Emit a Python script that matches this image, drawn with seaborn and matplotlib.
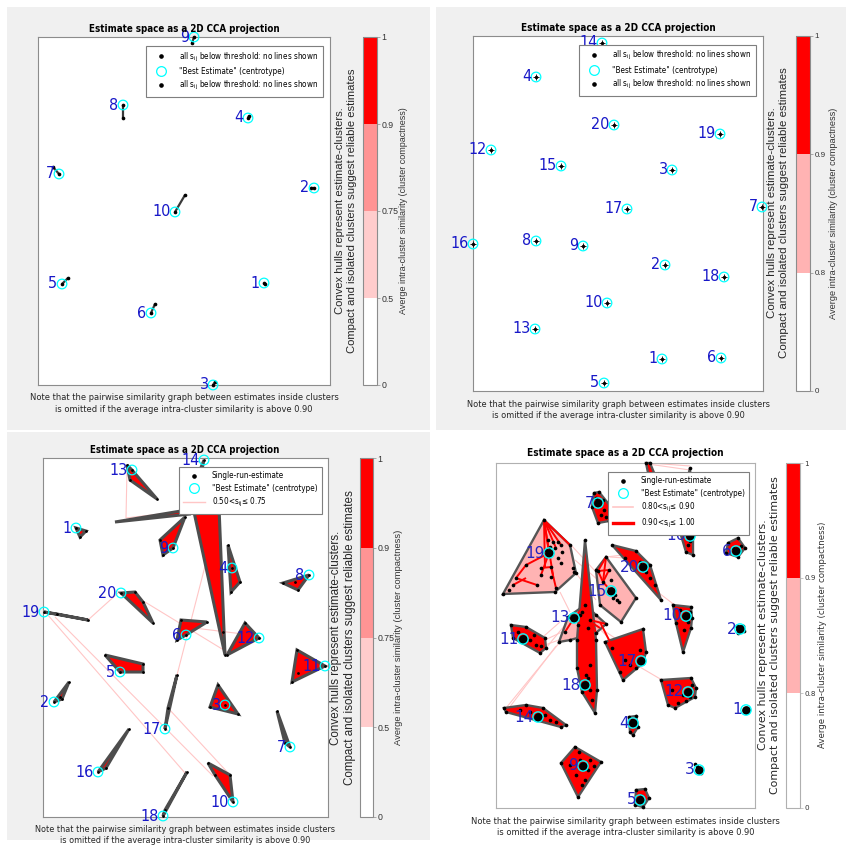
import numpy as np
import matplotlib
matplotlib.use("Agg")
import matplotlib.pyplot as plt
import seaborn as sns
from matplotlib import font_manager
from matplotlib.font_manager import FontProperties
from matplotlib.colors import ListedColormap, BoundaryNorm
from matplotlib.cm import ScalarMappable
from matplotlib.lines import Line2D
from matplotlib.patches import Rectangle, Polygon
from matplotlib.collections import LineCollection

# ---------------------------------------------------------------- data
# Run A: 10 components, two estimates per cluster (centrotype, other estimate)
p1_ids = [1, 2, 3, 4, 5, 6, 7, 8, 9, 10]
p1_centro_x = [264, 314, 213, 248, 62, 151, 59, 123, 194, 175]
p1_centro_y = [283, 188, 385, 118, 284, 313, 174, 105, 37, 212]
p1_other_x = [265, 311, 215, 249, 68, 155, 53, 123, 192, 185]
p1_other_y = [284, 188, 382, 116, 278, 304, 167, 118, 43, 195]

# Run B: 20 components, all estimates coincide with the centrotype
p2_ids = list(range(1, 21))
p2_x = [662, 665, 672, 536, 604, 721, 762, 536, 583, 607,
        700, 491, 535, 602, 561, 473, 627, 724, 720, 614]
p2_y = [359, 265, 170, 77, 383, 358, 207, 241, 246, 303,
        70, 150, 329, 43, 166, 244, 209, 277, 134, 125]

# Run C: 20 components, few estimates per cluster (first point = centrotype)
p3_clusters = {
    1: [(76, 528), (86, 531), (80, 537)],
    2: [(54, 702), (69, 682), (62, 699), (60, 697)],
    3: [(225, 705), (218, 685), (238, 714), (210, 707)],
    4: [(232, 568), (228, 545), (240, 582), (231, 592)],
    5: [(120, 672), (105, 655), (143, 664), (143, 672)],
    6: [(186, 635), (181, 620), (207, 622), (177, 640)],
    7: [(290, 747), (277, 711), (285, 743)],
    8: [(309, 575), (283, 583), (295, 582), (298, 590)],
    9: [(173, 548), (160, 540), (185, 517), (163, 555)],
    10: [(233, 802), (208, 763), (230, 775), (215, 775)],
    11: [(325, 666), (297, 650), (298, 673), (292, 682)],
    12: [(259, 638), (245, 623), (227, 655)],
    13: [(132, 470), (127, 465), (157, 499), (130, 480)],
    14: [(204, 460), (190, 495), (193, 511)],
    15: [(214, 493), (194, 512), (219, 507), (225, 655), (223, 632)],
    16: [(98, 772), (129, 729), (106, 768)],
    17: [(165, 729), (177, 675), (168, 708)],
    18: [(163, 816), (187, 772), (165, 810)],
    19: [(44, 612), (88, 620), (57, 614)],
    20: [(121, 593), (135, 592), (153, 623), (143, 602)],
}
p3_c14_tail = [(115, 522), (193, 509), (190, 514)]
p3_links = [((127, 470), (126, 518)), ((126, 518), (193, 510)), ((88, 620), (118, 593)),
            ((145, 602), (227, 652)), ((186, 627), (243, 634)), ((47, 614), (185, 773)),
            ((55, 617), (213, 776)), ((168, 708), (230, 775)), ((177, 675), (220, 508))]

# Run D: 20 components, many estimates per cluster (first point = centrotype)
p4_clusters = {
    1: [(746, 710)],
    2: [(740, 629), (737, 626), (743, 626), (744, 631), (738, 633)],
    3: [(699, 770), (695, 764), (697, 766), (701, 773), (698, 768)],
    4: [(633, 723), (629, 717), (636, 716), (638, 727), (633, 735), (630, 732), (632, 720)],
    5: [(640, 800), (636, 790), (645, 789), (649, 798), (643, 807), (635, 805), (641, 796)],
    6: [(736, 551), (728, 543), (738, 538), (745, 548), (738, 557), (726, 553), (741, 546), (733, 548)],
    7: [(598, 503), (594, 493), (599, 492), (611, 507), (609, 521), (598, 523), (592, 507),
        (604, 510), (601, 515), (606, 517), (596, 498), (603, 500)],
    8: [(652, 492), (646, 463), (650, 463), (657, 480), (655, 488)],
    9: [(583, 766), (575, 747), (601, 762), (578, 797), (561, 763), (580, 760), (588, 770),
        (576, 775), (585, 780), (590, 760), (570, 765), (582, 785), (594, 766), (579, 752)],
    10: [(686, 616), (673, 605), (691, 607), (692, 618), (691, 628), (683, 652), (676, 623),
         (688, 622), (690, 612), (680, 610), (684, 630)],
    11: [(523, 639), (511, 625), (526, 627), (545, 638), (546, 648), (540, 653), (513, 638),
         (530, 640), (536, 645), (518, 632), (541, 646), (534, 635)],
    12: [(688, 692), (661, 680), (691, 678), (696, 688), (695, 697), (686, 701), (675, 708),
         (668, 705), (692, 685), (683, 695), (690, 697), (678, 703), (672, 690)],
    13: [(574, 618), (559, 642), (568, 617), (585, 605), (596, 615), (606, 624), (596, 633),
         (570, 640), (578, 625), (582, 612), (590, 620), (565, 632), (588, 628), (580, 615)],
    14: [(538, 717), (504, 708), (526, 705), (543, 708), (566, 725), (561, 727), (506, 712),
         (545, 715), (550, 720), (530, 712), (520, 710), (556, 722)],
    15: [(611, 591), (606, 557), (636, 598), (621, 622), (600, 605), (596, 570), (613, 598),
         (617, 600), (619, 602), (598, 571), (609, 570), (603, 582), (611, 580), (615, 595)],
    16: [(690, 536), (690, 468), (677, 522), (693, 522), (693, 555), (686, 552), (688, 545), (690, 541)],
    17: [(641, 661), (605, 642), (643, 629), (646, 652), (643, 663), (623, 680), (625, 660),
         (630, 665), (640, 650), (620, 672), (612, 648), (636, 668)],
    18: [(585, 685), (585, 540), (596, 640), (597, 690), (595, 713), (577, 668), (577, 640),
         (590, 690), (588, 678), (582, 692), (592, 700), (590, 665), (586, 675)],
    19: [(549, 553), (544, 520), (570, 545), (576, 573), (555, 592), (503, 594), (548, 540),
         (553, 542), (558, 542), (550, 547), (546, 550), (555, 548), (561, 545), (562, 552),
         (558, 558), (561, 563), (551, 567), (541, 568), (551, 577), (526, 565), (541, 575),
         (516, 578), (513, 585), (537, 585), (556, 588), (573, 568), (574, 572), (509, 590)],
    20: [(643, 567), (612, 545), (636, 551), (650, 565), (661, 600), (625, 558), (646, 572),
         (650, 578), (640, 562), (655, 585)],
}
p4_compactness = {13: 0.85, 15: 0.85, 19: 0.85}   # remaining clusters above 0.90
p4_links_weak = [((506, 708), (560, 642)), ((509, 708), (556, 646)), ((545, 640), (566, 630)),
                 ((545, 645), (570, 636)), ((546, 648), (565, 625)), ((544, 636), (560, 622)),
                 ((571, 545), (596, 572)), ((575, 560), (598, 580)), ((606, 557), (640, 553)),
                 ((610, 557), (625, 558)), ((655, 590), (676, 606)), ((633, 663), (662, 680)),
                 ((596, 625), (620, 650)), ((600, 628), (640, 655)), ((648, 464), (690, 470)),
                 ((650, 463), (690, 466)), ((576, 573), (596, 600)), ((560, 592), (570, 612)),
                 ((544, 520), (576, 573)), ((544, 520), (555, 592)), ((544, 520), (573, 568))]
p4_links_strong = [((544, 520), (549, 553)), ((544, 520), (556, 548)), ((544, 520), (561, 545)),
                   ((544, 520), (570, 545)), ((544, 520), (553, 575)), ((544, 520), (545, 568)),
                   ((549, 553), (526, 565)), ((526, 565), (516, 578)), ((516, 578), (537, 585)),
                   ((541, 568), (551, 567)), ((549, 553), (541, 575)), ((551, 567), (556, 588)),
                   ((513, 585), (526, 578)), ((598, 571), (609, 570)), ((598, 571), (603, 582)),
                   ((609, 570), (603, 582)), ((606, 557), (603, 582)), ((603, 582), (611, 591)),
                   ((606, 557), (598, 571)), ((585, 605), (574, 618)), ((585, 605), (590, 620)),
                   ((585, 605), (596, 633)), ((574, 618), (565, 632)), ((580, 615), (600, 628)),
                   ((568, 617), (588, 628)), ((590, 620), (606, 624)), ((600, 622), (612, 646))]

cbar_bounds_a = [0, 0.5, 0.75, 0.9, 1]
cbar_bounds_b = [0, 0.8, 0.9, 1]
cbar_labels_a = ["0", "0.5", "0.75", "0.9", "1"]
cbar_labels_b = ["0", "0.8", "0.9", "1"]

TITLE = "Estimate space as a 2D CCA projection"
SIDE = "Convex hulls represent estimate-clusters.\nCompact and isolated clusters suggest reliable estimates"
CBLAB = "Averge intra-cluster similarity (cluster compactness)"
NOTE = ("Note that the pairwise similarity graph between estimates inside clusters\n"
        "is omitted if the average intra-cluster similarity is above 0.90")
LEG_NONE = r"all s$_{\mathregular{ij}}$ below threshold: no lines shown"
LEG_SINGLE = "Single-run-estimate"
LEG_BEST = '"Best Estimate" (centrotype)'

# ---------------------------------------------------------------- style
W, H = 846, 850
_fonts = font_manager.fontManager.ttflist
_names = {f.name for f in _fonts}
_has_cond = any(f.name == "DejaVu Sans" and f.stretch == "condensed" for f in _fonts)
if "Liberation Sans Narrow" in _names:
    NFAM, NSTR = "Liberation Sans Narrow", "normal"
elif _has_cond:
    NFAM, NSTR = "DejaVu Sans", "condensed"
else:
    NFAM, NSTR = ("Liberation Sans" if "Liberation Sans" in _names else "DejaVu Sans"), "normal"
SANS = "Liberation Sans" if "Liberation Sans" in _names else "DejaVu Sans"


def nfp(size, weight="normal"):
    return FontProperties(family=NFAM, stretch=NSTR, size=size, weight=weight)


plt.rcParams["mathtext.fontset"] = "custom"
plt.rcParams["mathtext.rm"] = NFAM
plt.rcParams["mathtext.it"] = NFAM
plt.rcParams["font.family"] = [NFAM, "DejaVu Sans"]

BLUE = "#1818c8"
RED = "#ff0000"
PINK = "#ffb3b3"
CYAN = "#00ffff"
LINK = "#ffc6c6"

fig = plt.figure(figsize=(W / 100, H / 100), dpi=100, facecolor="white")
renderer = fig.canvas.get_renderer()


def frect(x0, y0, x1, y1):
    return [x0 / W, 1 - y1 / H, (x1 - x0) / W, (y1 - y0) / H]


def fit_text(x, y, s, target, fp, vertical=False, **kw):
    """Place a figure text and scale its size so its long side spans `target` pixels."""
    t = fig.text(x / W, 1 - y / H, s, fontproperties=fp, **kw)
    bb = t.get_window_extent(renderer)
    span = bb.height if vertical else bb.width
    fp2 = fp.copy()
    fp2.set_size(fp.get_size() * target / span)
    t.set_fontproperties(fp2)
    return t


for x0, y0, x1, y1 in [(7, 7, 430, 430), (436, 7, 846, 430), (7, 432, 430, 840)]:
    fig.patches.append(Rectangle((x0 / W, 1 - y1 / H), (x1 - x0) / W, (y1 - y0) / H,
                                 transform=fig.transFigure, fc="#f0f0f0", ec="none", zorder=-10))


def convex_hull(pts):
    pts = sorted(set(map(tuple, pts)))
    if len(pts) <= 2:
        return pts

    def cross(o, a, b):
        return (a[0] - o[0]) * (b[1] - o[1]) - (a[1] - o[1]) * (b[0] - o[0])

    lower, upper = [], []
    for p in pts:
        while len(lower) >= 2 and cross(lower[-2], lower[-1], p) <= 0:
            lower.pop()
        lower.append(p)
    for p in reversed(pts):
        while len(upper) >= 2 and cross(upper[-2], upper[-1], p) <= 0:
            upper.pop()
        upper.append(p)
    return lower[:-1] + upper[:-1]


def make_panel(box, cbox, bounds, colors, ticklabels, title_at, side_at, cbl_at, note_at,
               side_font, tick_size, spine="#8c8c8c"):
    ax = fig.add_axes(frect(*box))
    ax.set_facecolor("white")
    ax.set_xticks([])
    ax.set_yticks([])
    for sp in ax.spines.values():
        sp.set_color(spine)
        sp.set_linewidth(0.8)
    cax = fig.add_axes(frect(*cbox))
    cmap = ListedColormap(colors)
    norm = BoundaryNorm(bounds, cmap.N)
    cb = fig.colorbar(ScalarMappable(norm=norm, cmap=cmap), cax=cax, spacing="uniform", ticks=bounds)
    cb.ax.set_yticklabels(ticklabels, fontsize=tick_size, family=side_font, color="#333333")
    cb.outline.set_edgecolor(spine)
    cb.outline.set_linewidth(0.8)
    cb.ax.tick_params(length=2, width=0.5, color=spine, pad=1.2)
    tx, ty, tw = title_at
    fit_text(tx, ty, TITLE, tw, nfp(8, "bold"), ha="center", va="center")
    sx, sy, sh = side_at
    fit_text(sx, sy, SIDE, sh, FontProperties(family=side_font, size=8), vertical=True,
             ha="center", va="center", rotation=90, color="#262626", linespacing=1.15)
    cx, cy, ch = cbl_at
    fit_text(cx, cy, CBLAB, ch, FontProperties(family=side_font, size=6), vertical=True,
             ha="center", va="center", rotation=90, color="#333333")
    nx, ny, nw = note_at
    fit_text(nx, ny, NOTE, nw, nfp(8), ha="center", va="center", color="#262626",
             linespacing=1.3)
    return ax


def finish(ax, box, handles, labels, anchor, fs=5.9):
    ax.set_xlim(box[0], box[2])
    ax.set_ylim(box[3], box[1])
    leg = ax.legend(handles, labels, loc="upper right", bbox_to_anchor=anchor, borderaxespad=0,
                    frameon=True, fancybox=False, framealpha=1, edgecolor="#7f7f7f",
                    handlelength=2.6, handletextpad=0.9, labelspacing=0.4, borderpad=0.55,
                    prop=nfp(fs))
    leg.get_frame().set_linewidth(0.8)
    leg.set_zorder(20)


def labels_for(ax, ids, xs, ys, off=4.5, fs=11.5, family=None, color=BLUE):
    for i, x, y in zip(ids, xs, ys):
        fp = nfp(fs) if family is None else FontProperties(family=family, size=fs)
        ax.text(x - off, y, str(i), ha="right", va="center", fontproperties=fp, color=color,
                zorder=8, clip_on=False)


def dots(ax, xs, ys, s=6, marker="o"):
    sns.scatterplot(x=list(xs), y=list(ys), ax=ax, color="black", s=s, marker=marker,
                    linewidth=0, legend=False, zorder=6, clip_on=False)


def circles(ax, xs, ys, s=48, lw=0.9):
    sns.scatterplot(x=list(xs), y=list(ys), ax=ax, marker="o", s=s, facecolor="none",
                    edgecolor=CYAN, linewidth=lw, legend=False, zorder=7, clip_on=False)


dot_h = Line2D([], [], marker="o", color="black", ls="none", markersize=2.3)
circ_h = Line2D([], [], marker="o", mfc="none", mec=CYAN, ls="none", markersize=7, mew=0.9)

# ---------------------------------------------------------------- panel A
boxA = (38, 37, 330, 385)
axA = make_panel(boxA, (363, 37, 377, 385), cbar_bounds_a, ["white", "#ffcccc", "#ff9494", RED],
                 cbar_labels_a, (184, 29, 192), (346, 211, 285), (403, 211, 210),
                 (184, 403.5, 306), SANS, 6.3)
for x0, y0, x1, y1 in zip(p1_centro_x, p1_centro_y, p1_other_x, p1_other_y):
    axA.add_patch(Polygon([(x0, y0), (x1, y1)], closed=True, fc="none", ec="#3a3a3a",
                          lw=1.6, zorder=3, clip_on=False))
dots(axA, p1_centro_x + p1_other_x, p1_centro_y + p1_other_y, s=7)
circles(axA, p1_centro_x, p1_centro_y)
labels_for(axA, p1_ids, p1_centro_x, p1_centro_y)
finish(axA, boxA, [dot_h, circ_h, dot_h], [LEG_NONE, LEG_BEST, LEG_NONE], (0.976, 0.974))

# ---------------------------------------------------------------- panel B
boxB = (473, 36, 763, 391)
axB = make_panel(boxB, (796, 36, 810, 391), cbar_bounds_b, ["white", PINK, RED],
                 cbar_labels_b, (618, 28, 194), (778, 213, 292), (833, 213, 213),
                 (618, 410, 303), SANS, 5.8)
dots(axB, p2_x, p2_y, s=6)
sns.scatterplot(x=p2_x, y=p2_y, ax=axB, color="black", s=14, marker="+", linewidth=0.6,
                legend=False, zorder=6, clip_on=False)
circles(axB, p2_x, p2_y)
labels_for(axB, p2_ids, p2_x, p2_y)
finish(axB, boxB, [dot_h, circ_h, dot_h], [LEG_NONE, LEG_BEST, LEG_NONE], (0.976, 0.975))

# ---------------------------------------------------------------- panel C
boxC = (43, 458, 328, 817)
axC = make_panel(boxC, (360, 458, 373, 817), cbar_bounds_a, ["white", "#ffcccc", "#ff9494", RED],
                 cbar_labels_a, (185, 450, 190), (343, 638, 295), (398, 637, 218),
                 (185, 835, 299), SANS, 6.3)
axC.add_collection(LineCollection(p3_links, colors=LINK, linewidths=0.8, zorder=2))
for pts in list(p3_clusters.values()) + [p3_c14_tail]:
    axC.add_patch(Polygon(convex_hull(pts), closed=True, fc=RED, ec="#4d4d4d", lw=2.2,
                          joinstyle="miter", zorder=3, clip_on=False))
allx = [p[0] for pts in p3_clusters.values() for p in pts]
ally = [p[1] for pts in p3_clusters.values() for p in pts]
dots(axC, allx, ally, s=4)
c3x = [pts[0][0] for pts in p3_clusters.values()]
c3y = [pts[0][1] for pts in p3_clusters.values()]
circles(axC, c3x, c3y)
labels_for(axC, list(p3_clusters.keys()), c3x, c3y)
link_h = Line2D([], [], color=LINK, lw=1)
finish(axC, boxC, [dot_h, circ_h, link_h],
       [LEG_SINGLE, LEG_BEST, r"0.50<s$_{\mathregular{ij}}$≤ 0.75"], (0.979, 0.975))

# ---------------------------------------------------------------- panel D
boxD = (496, 463, 755, 808)
axD = make_panel(boxD, (786, 463, 800, 808), cbar_bounds_b, ["white", PINK, RED],
                 cbar_labels_b, (625.5, 453, 196), (769, 635, 317), (822, 635, 230),
                 (625.5, 827, 308), "DejaVu Sans", 5.2, spine="#b0b0b0")
axD.add_collection(LineCollection(p4_links_weak, colors=LINK, linewidths=0.8, zorder=2))
for cid, pts in p4_clusters.items():
    fc = PINK if p4_compactness.get(cid, 0.95) <= 0.9 else RED
    if len(pts) > 1:
        axD.add_patch(Polygon(convex_hull(pts), closed=True, fc=fc, ec="#555555", lw=1.7,
                              joinstyle="miter", zorder=3, clip_on=False))
axD.add_collection(LineCollection(p4_links_strong, colors=RED, linewidths=1.4, zorder=4))
allx = [p[0] for pts in p4_clusters.values() for p in pts]
ally = [p[1] for pts in p4_clusters.values() for p in pts]
dots(axD, allx, ally, s=7)
c4x = [pts[0][0] for pts in p4_clusters.values()]
c4y = [pts[0][1] for pts in p4_clusters.values()]
dots(axD, c4x, c4y, s=40)
circles(axD, c4x, c4y, s=55, lw=1.0)
labels_for(axD, list(p4_clusters.keys()), c4x, c4y, off=4, fs=11, family="DejaVu Sans",
           color="#2424c0")
weak_h = Line2D([], [], color=LINK, lw=1.2)
strong_h = Line2D([], [], color=RED, lw=2.4)
finish(axD, boxD, [dot_h, circ_h, weak_h, strong_h],
       [LEG_SINGLE, LEG_BEST, r"0.80<s$_{\mathregular{ij}}$≤ 0.90",
        r"0.90<s$_{\mathregular{ij}}$≤ 1.00"], (0.977, 0.974), fs=5.8)

fig.savefig("out.png", dpi=100, facecolor=fig.get_facecolor())
